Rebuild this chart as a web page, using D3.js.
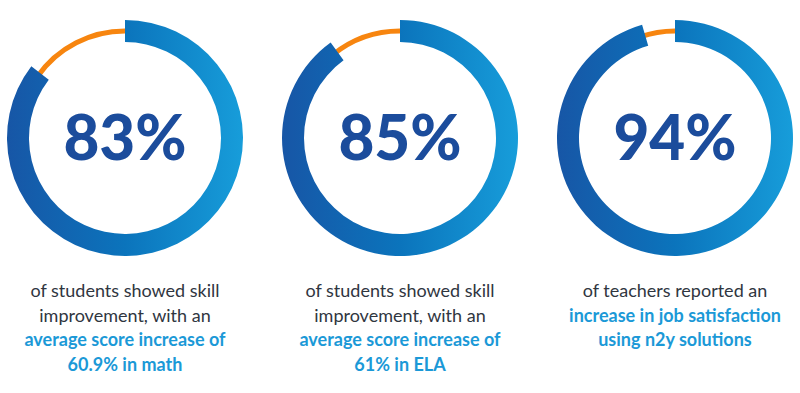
<!DOCTYPE html>
<html><head><meta charset="utf-8">
<script src="https://cdn.jsdelivr.net/npm/d3@7"></script>
<style>html,body{margin:0;padding:0;background:#fff;}svg{display:block;}</style>
</head><body>
<svg id="c" width="800" height="393"></svg>
<script>
const labels = ["83%", "85%", "94%"];
// visible share of the blue ring (percent)
const ringShare = [85.4, 90, 95.5];
const captions = [
  [{t:"of students showed skill", b:false},{t:"improvement, with an", b:false},{t:"average score increase of", b:true},{t:"60.9% in math", b:true}],
  [{t:"of students showed skill", b:false},{t:"improvement, with an", b:false},{t:"average score increase of", b:true},{t:"61% in ELA", b:true}],
  [{t:"of teachers reported an", b:false},{t:"increase in job satisfaction", b:true},{t:"using n2y solutions", b:true}]
];

const svg = d3.select("#c");
const x = d3.scalePoint().domain(d3.range(labels.length)).range([125, 675]);
const ang = d3.scaleLinear().domain([0, 100]).range([0, 2*Math.PI]);
const cy = 138, rOut = 118, rIn = 96;

const defs = svg.append("defs");
labels.forEach((d,i) => {
  const g = defs.append("linearGradient").attr("id","g"+i)
    .attr("gradientUnits","userSpaceOnUse")
    .attr("x1", -rOut).attr("x2", rOut).attr("y1",0).attr("y2",0);
  g.append("stop").attr("offset","0%").attr("stop-color","#1756a6");
  g.append("stop").attr("offset","50%").attr("stop-color","#0b74bc");
  g.append("stop").attr("offset","100%").attr("stop-color","#179dda");
});

const arcBlue = d3.arc().innerRadius(rIn).outerRadius(rOut).startAngle(0);
const mid = (rIn + rOut)/2;
const arcOrange = d3.arc().innerRadius(mid-2.5).outerRadius(mid+2.5);

const g = svg.selectAll("g.ring").data(labels).join("g").attr("class","ring")
  .attr("transform",(d,i)=>`translate(${x(i)},${cy})`);

g.append("path").attr("fill","#f7850f")
  .attr("d",(d,i)=>arcOrange({startAngle: ang(ringShare[i]) - 0.05, endAngle: 2*Math.PI + 0.02}));
g.append("path").attr("fill",(d,i)=>`url(#g${i})`)
  .attr("d",(d,i)=>arcBlue({endAngle: ang(ringShare[i])}));
g.append("text").text(d=>d)
  .attr("text-anchor","middle").attr("y",22)
  .attr("font-family","Lato").attr("font-weight",900).attr("font-size",62)
  .attr("fill","#1b4c9c");

const baselines = [297, 321.5, 346, 370.5];
captions.forEach((lines,i) => {
  svg.append("g").selectAll("text").data(lines).join("text")
    .attr("x", x(i)).attr("y",(d,j)=>baselines[j])
    .attr("text-anchor","middle")
    .attr("font-family","Lato").attr("font-size",18)
    .attr("font-weight",d=>d.b?700:400)
    .attr("fill",d=>d.b?"#1b99d7":"#30363f")
    .text(d=>d.t);
});
</script>
</body></html>
